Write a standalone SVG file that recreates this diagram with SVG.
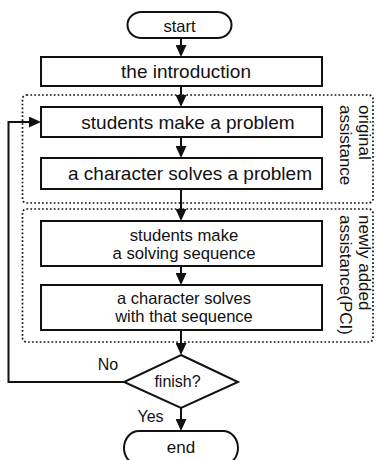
<svg xmlns="http://www.w3.org/2000/svg" width="376" height="460" viewBox="0 0 376 460">
<style>
.box{fill:#fff;stroke:#111;stroke-width:2}
.grp{fill:none;stroke:#111;stroke-width:1.7;stroke-dasharray:1.7 2.2}
.t{font-family:"Liberation Sans",Arial,sans-serif;fill:#111;text-anchor:middle}
.v{font-family:"Liberation Sans",Arial,sans-serif;fill:#111;font-size:17px}
.c{fill:none;stroke:#111;stroke-width:2;marker-end:url(#ah)}
</style>
<defs>
<marker id="ah" markerUnits="userSpaceOnUse" markerWidth="12" markerHeight="11" refX="6" refY="5.5" orient="auto">
<path d="M0,0 L12,5.5 L0,11 Z" fill="#111"/>
</marker>
</defs>
<rect width="376" height="460" fill="#fff"/>
<g id="group-original">
<rect class="grp" x="22.5" y="95" width="350.5" height="108" rx="4"/>
<text class="v" transform="translate(359,105) rotate(90)">original</text>
<text class="v" transform="translate(339.5,105) rotate(90)">assistance</text>
</g>
<g id="group-new">
<rect class="grp" x="22.5" y="209" width="350.5" height="133" rx="4"/>
<text class="v" transform="translate(359,215) rotate(90)">newly added</text>
<text class="v" transform="translate(339.5,215) rotate(90)">assistance(PCI)</text>
</g>
<g id="connectors">
<line class="c" x1="181" y1="38" x2="181" y2="51"/>
<line class="c" x1="181" y1="86" x2="181" y2="101"/>
<line class="c" x1="181" y1="137" x2="181" y2="152"/>
<line class="c" x1="181" y1="189" x2="181" y2="215"/>
<line class="c" x1="181" y1="266" x2="181" y2="279"/>
<line class="c" x1="181" y1="330" x2="181" y2="349"/>
<line class="c" x1="181" y1="408" x2="181" y2="425"/>
<polyline class="c" points="124,382 8.5,382 8.5,122 35,122"/>
<text class="t" x="108" y="370" font-size="16">No</text>
<text class="t" x="150.5" y="421.5" font-size="16">Yes</text>
</g>
<g id="start">
<rect class="box" x="127.5" y="12" width="104" height="26" rx="14" ry="13"/>
<text class="t" x="179.5" y="31.5" font-size="16.5">start</text>
</g>
<g id="intro">
<rect class="box" x="41" y="57" width="281" height="29"/>
<text class="t" x="186" y="77.5" font-size="19">the introduction</text>
</g>
<g id="make-problem">
<rect class="box" x="41" y="107" width="281" height="30"/>
<text class="t" x="188" y="128.5" font-size="19">students make a problem</text>
</g>
<g id="solve-problem">
<rect class="box" x="41" y="158" width="281" height="31"/>
<text class="t" x="190" y="180" font-size="19">a character solves a problem</text>
</g>
<g id="make-sequence">
<rect class="box" x="41" y="221" width="281" height="45"/>
<text class="t" x="184" y="240.5" font-size="16.7">students make</text>
<text class="t" x="184" y="259" font-size="16.7">a solving sequence</text>
</g>
<g id="solve-sequence">
<rect class="box" x="41" y="285" width="281" height="45"/>
<text class="t" x="184" y="304" font-size="16.5">a character solves</text>
<text class="t" x="184" y="322" font-size="16.5">with that sequence</text>
</g>
<g id="finish">
<polygon class="box" points="181,355 238,382 181,408 124,382"/>
<text class="t" x="177.5" y="387" font-size="16">finish?</text>
</g>
<g id="end">
<rect class="box" x="124" y="431" width="114" height="34" rx="15" ry="17"/>
<text class="t" x="181" y="453" font-size="17">end</text>
</g>
</svg>
